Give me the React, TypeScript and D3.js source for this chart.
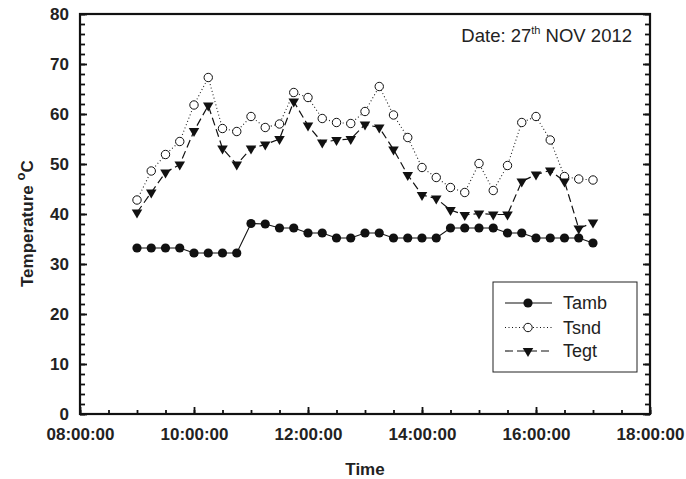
import React, { useEffect, useRef } from 'react';
import * as d3 from 'd3';

// sample times, every 15 minutes
const times = [
  '09:00', '09:15', '09:30', '09:45', '10:00', '10:15', '10:30', '10:45',
  '11:00', '11:15', '11:30', '11:45', '12:00', '12:15', '12:30', '12:45',
  '13:00', '13:15', '13:30', '13:45', '14:00', '14:15', '14:30', '14:45',
  '15:00', '15:15', '15:30', '15:45', '16:00', '16:15', '16:30', '16:45',
  '17:00',
];

const tamb = [
  33.2, 33.2, 33.2, 33.2, 32.2, 32.2, 32.2, 32.2,
  38.1, 38.0, 37.2, 37.2, 36.2, 36.2, 35.2, 35.2,
  36.2, 36.2, 35.2, 35.2, 35.2, 35.2, 37.2, 37.2,
  37.2, 37.2, 36.2, 36.2, 35.2, 35.2, 35.2, 35.2,
  34.2,
];

const tsnd = [
  42.8, 48.6, 51.9, 54.5, 61.8, 67.3, 57.1, 56.5,
  59.5, 57.3, 58.0, 64.3, 63.3, 59.1, 58.3, 58.1,
  60.5, 65.5, 59.8, 55.3, 49.3, 47.3, 45.3, 44.3,
  50.1, 44.7, 49.7, 58.3, 59.5, 54.8, 47.5, 47.0,
  46.8,
];

const tegt = [
  40.3, 44.3, 48.3, 49.9, 56.6, 61.7, 53.1, 49.9,
  53.1, 53.9, 55.0, 62.5, 57.7, 54.3, 54.8, 55.0,
  57.9, 57.3, 52.9, 47.8, 43.8, 43.1, 40.8, 39.8,
  40.1, 39.9, 39.9, 46.5, 47.9, 48.7, 46.5, 37.1,
  38.3,
];

const seriesNames = ['Tamb', 'Tsnd', 'Tegt'];
const xDomain = ['08:00', '18:00'];
const yDomain = [0, 80];

const FONT = 'Liberation Sans, Arial, sans-serif';

const Chart = () => {
  const ref = useRef<SVGSVGElement>(null);

  useEffect(() => {
    const svg = d3.select(ref.current);
    svg.selectAll('*').remove();

    const margin = { top: 14, right: 36, bottom: 65, left: 80 };
    const width = 686 - margin.left - margin.right;
    const height = 479 - margin.top - margin.bottom;

    const parse = d3.timeParse('%H:%M');
    const x = d3.scaleTime()
      .domain(xDomain.map((d) => parse(d) as Date))
      .range([0, width]);
    const y = d3.scaleLinear().domain(yDomain).range([height, 0]);

    const g = svg.append('g')
      .attr('transform', 'translate(' + margin.left + ',' + margin.top + ')');

    // minor ticks
    g.append('g')
      .attr('transform', 'translate(0,' + height + ')')
      .call(d3.axisBottom(x).ticks(d3.timeMinute.every(30)).tickSize(-4).tickFormat(() => ''));
    g.append('g')
      .call(d3.axisLeft(y).ticks(40).tickSize(-5).tickFormat(() => ''));
    g.append('g')
      .attr('transform', 'translate(' + width + ',0)')
      .call(d3.axisRight(y).ticks(40).tickSize(-5).tickFormat(() => ''));

    // major ticks + labels
    g.append('g')
      .attr('transform', 'translate(0,' + height + ')')
      .call(d3.axisBottom(x).ticks(d3.timeHour.every(2)).tickSize(-7).tickPadding(14)
        .tickFormat((d) => d3.timeFormat('%H:%M:%S')(d as Date)));
    g.append('g')
      .call(d3.axisLeft(y).ticks(8).tickSize(-7).tickPadding(11));
    g.append('g')
      .attr('transform', 'translate(' + width + ',0)')
      .call(d3.axisRight(y).ticks(8).tickSize(-7).tickFormat(() => ''));

    g.selectAll('.domain').remove();
    g.selectAll('.tick line').attr('stroke', '#111').attr('stroke-width', 1.8);
    g.selectAll('.tick text')
      .attr('fill', '#222')
      .style('font-family', FONT)
      .style('font-size', '17px')
      .style('font-weight', 'bold');

    // frame
    g.append('rect')
      .attr('width', width).attr('height', height)
      .attr('fill', 'none').attr('stroke', '#111').attr('stroke-width', 2.2);

    const pts = (vals: number[]) => vals.map((v, i) => [x(parse(times[i]) as Date), y(v)] as [number, number]);
    const line = d3.line();

    // lines
    g.append('path').attr('d', line(pts(tamb)))
      .attr('fill', 'none').attr('stroke', '#111').attr('stroke-width', 1.1);
    g.append('path').attr('d', line(pts(tsnd)))
      .attr('fill', 'none').attr('stroke', '#222').attr('stroke-width', 1.1)
      .attr('stroke-dasharray', '1,2.5');
    g.append('path').attr('d', line(pts(tegt)))
      .attr('fill', 'none').attr('stroke', '#111').attr('stroke-width', 1.2)
      .attr('stroke-dasharray', '8,4');

    const tri = d3.symbol().type(d3.symbolTriangle).size(48);

    // markers
    g.selectAll('.amb').data(pts(tamb)).enter().append('circle')
      .attr('cx', (d) => d[0]).attr('cy', (d) => d[1]).attr('r', 4.6)
      .attr('fill', '#111');
    g.selectAll('.snd').data(pts(tsnd)).enter().append('circle')
      .attr('cx', (d) => d[0]).attr('cy', (d) => d[1]).attr('r', 4.2)
      .attr('fill', 'white').attr('stroke', '#111').attr('stroke-width', 1);
    g.selectAll('.egt').data(pts(tegt)).enter().append('path')
      .attr('d', tri())
      .attr('transform', (d) => 'translate(' + d[0] + ',' + d[1] + ') rotate(180)')
      .attr('fill', '#111');

    // date note
    const note = g.append('text')
      .attr('x', 552).attr('y', 28)
      .attr('text-anchor', 'end')
      .style('font-family', FONT).style('font-size', '18.5px').attr('fill', '#222');
    note.append('tspan').text('Date: 27');
    note.append('tspan').attr('dy', -8).style('font-size', '11px').text('th');
    note.append('tspan').attr('dy', 8).text(' NOV 2012');

    // legend
    const lg = g.append('g').attr('transform', 'translate(413,268)');
    lg.append('rect').attr('width', 144).attr('height', 90)
      .attr('fill', 'white').attr('stroke', '#222').attr('stroke-width', 1);
    const rows = [21, 45.5, 69];
    seriesNames.forEach((name, i) => {
      const ry = rows[i];
      const l = lg.append('line')
        .attr('x1', 12).attr('x2', 59).attr('y1', ry).attr('y2', ry)
        .attr('stroke', '#111').attr('stroke-width', 1.1);
      if (i === 1) l.attr('stroke-dasharray', '1,2.5');
      if (i === 2) l.attr('stroke-dasharray', '8,4');
      if (i === 0) {
        lg.append('circle').attr('cx', 35).attr('cy', ry).attr('r', 4.6).attr('fill', '#111');
      } else if (i === 1) {
        lg.append('circle').attr('cx', 35).attr('cy', ry).attr('r', 4.2)
          .attr('fill', 'white').attr('stroke', '#111');
      } else {
        lg.append('path').attr('d', tri())
          .attr('transform', 'translate(35,' + ry + ') rotate(180)').attr('fill', '#111');
      }
      lg.append('text').attr('x', 70).attr('y', ry).attr('dy', '0.36em')
        .style('font-family', FONT).style('font-size', '18px').attr('fill', '#222')
        .text(name);
    });

    // axis titles
    g.append('text')
      .attr('x', width / 2).attr('y', height + 61)
      .attr('text-anchor', 'middle')
      .style('font-family', FONT).style('font-size', '17px').style('font-weight', 'bold')
      .attr('fill', '#222')
      .text('Time');

    const yl = g.append('text')
      .attr('transform', 'translate(-47,273) rotate(-90)')
      .attr('text-anchor', 'start')
      .style('font-family', FONT).style('font-size', '17px').style('font-weight', 'bold')
      .attr('fill', '#222');
    yl.append('tspan').text('Temperature ');
    yl.append('tspan').attr('dy', -8).style('font-size', '13px').text('o');
    yl.append('tspan').attr('dy', 8).text('C');
  }, []);

  return <svg ref={ref} width={686} height={479} style={{ position: 'absolute', left: 0, top: 0 }} />;
};

export default function App() {
  return <Chart />;
}
